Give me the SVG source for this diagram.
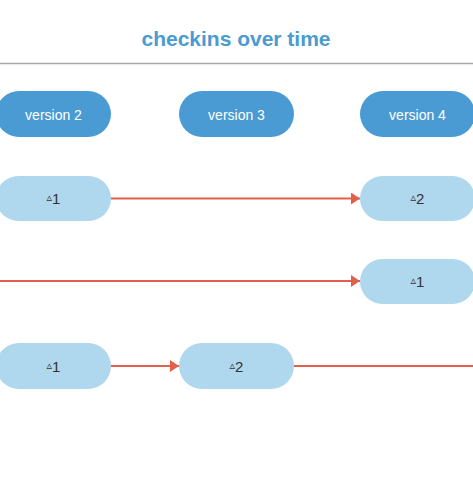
<svg xmlns="http://www.w3.org/2000/svg" width="473" height="477" viewBox="0 0 473 477">
<style>
.title{font-family:"Liberation Sans",Arial,sans-serif;font-size:21px;font-weight:bold;fill:#4a9bd0;text-anchor:middle}
.ver rect{fill:#4a9bd4}
.ver text{font-family:"Liberation Sans",Arial,sans-serif;font-size:14px;fill:#ffffff;text-anchor:middle}
.chk rect{fill:#afd7ed}
.chk text{font-family:"Liberation Sans","DejaVu Sans",Arial,sans-serif;font-size:15px;fill:#333333;text-anchor:middle}
.chk tspan.d{font-size:11px;font-family:"DejaVu Sans",sans-serif}
.conn line{stroke:#e0604a;stroke-width:2;fill:none}
</style>
<defs>
<marker id="ah" markerWidth="9" markerHeight="12" refX="9" refY="6" orient="auto" markerUnits="userSpaceOnUse">
<path d="M0,0 L9,6 L0,12 Z" fill="#e0604a"/>
</marker>
</defs>
<rect width="473" height="477" fill="#ffffff"/>
<text class="title" x="236" y="46">checkins over time</text>
<line x1="0" y1="63.5" x2="473" y2="63.5" stroke="#a8a8a8" stroke-width="1.5"/>

<g id="v2" class="ver"><rect x="-4" y="91" width="115" height="46" rx="23"/><text x="53.5" y="119.5">version 2</text></g>
<g id="v3" class="ver"><rect x="179" y="91" width="115" height="46" rx="23"/><text x="236.5" y="119.5">version 3</text></g>
<g id="v4" class="ver"><rect x="360" y="91" width="115" height="46" rx="23"/><text x="417.5" y="119.5">version 4</text></g>

<g class="conn" id="connectors">
<line x1="111" y1="198.5" x2="360" y2="198.5" marker-end="url(#ah)"/>
<line x1="0" y1="281" x2="360" y2="281" marker-end="url(#ah)"/>
<line x1="111" y1="366" x2="179" y2="366" marker-end="url(#ah)"/>
<line x1="294" y1="366" x2="473" y2="366"/>
</g>

<g id="r1a" class="chk"><rect x="-4" y="176" width="115" height="45" rx="22.5"/><text x="53.5" y="204"><tspan class="d" dy="-3">▵</tspan><tspan dy="3">1</tspan></text></g>
<g id="r1b" class="chk"><rect x="360" y="176" width="115" height="45" rx="22.5"/><text x="417.5" y="204"><tspan class="d" dy="-3">▵</tspan><tspan dy="3">2</tspan></text></g>
<g id="r2a" class="chk"><rect x="360" y="259" width="115" height="45" rx="22.5"/><text x="417.5" y="287"><tspan class="d" dy="-3">▵</tspan><tspan dy="3">1</tspan></text></g>
<g id="r3a" class="chk"><rect x="-4" y="343" width="115" height="46" rx="23"/><text x="53.5" y="371.5"><tspan class="d" dy="-3">▵</tspan><tspan dy="3">1</tspan></text></g>
<g id="r3b" class="chk"><rect x="179" y="343" width="115" height="46" rx="23"/><text x="236.5" y="371.5"><tspan class="d" dy="-3">▵</tspan><tspan dy="3">2</tspan></text></g>
</svg>
